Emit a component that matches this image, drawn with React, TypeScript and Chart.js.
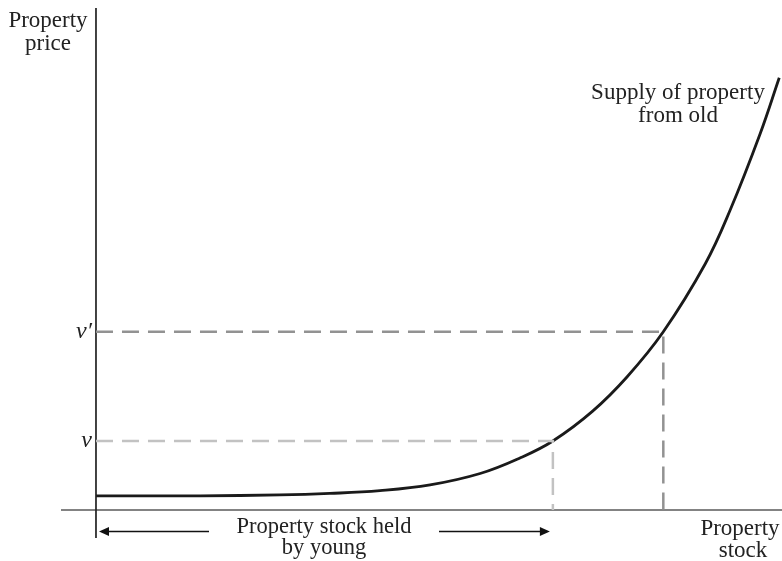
import React, { useEffect, useRef } from "react";
import { Chart, registerables } from "chart.js";

Chart.register(...registerables);

// Supply of property from old: stock (x) vs price (y), in chart units
const stock = [0, 15.2, 26.8, 34.1, 41.4, 48.7, 56.0, 61.8, 66.6, 72.4, 77.4, 82.7, 88.8, 92.4, 96.8, 99.6];
const price = [2.8, 2.83, 3.0, 3.3, 3.85, 5.0, 7.27, 10.36, 13.75, 19.7, 26.5, 35.5, 49.0, 59.6, 74.9, 86.1];

// Price levels and the stock they correspond to
const vLabels = ["v", "v\u2032"];
const vPrice = [13.75, 35.5];
const vStock = [66.6, 82.7];

const X_MIN = -5.1;
const X_MAX = 100;
const Y_MIN = -5.58;
const Y_MAX = 100;

const SERIF = '"Liberation Serif", "DejaVu Serif", serif';

const annotations = {
  id: "annotations",
  afterDraw(chart: any) {
    const { ctx } = chart;
    const xs = chart.scales.x;
    const ys = chart.scales.y;
    ctx.save();
    ctx.fillStyle = "#222";
    ctx.textBaseline = "alphabetic";

    // axis titles
    ctx.font = `23px ${SERIF}`;
    ctx.textAlign = "center";
    ctx.fillText("Property", 48, 27);
    ctx.fillText("price", 48, 50);

    ctx.fillText("Supply of property", 678, 99);
    ctx.fillText("from old", 678, 122);

    ctx.fillText("Property", 740, 535);
    ctx.fillText("stock", 743, 557);

    ctx.font = `22.5px ${SERIF}`;
    ctx.fillText("Property stock held", 324, 533);
    ctx.fillText("by young", 324, 554);

    // price level labels
    ctx.font = `italic 24px ${SERIF}`;
    ctx.textAlign = "right";
    for (let i = 0; i < vLabels.length; i++) {
      const py = ys.getPixelForValue(vPrice[i]);
      ctx.fillText(vLabels[i], 92, py + 6);
    }

    // arrows
    const ay = 531.5;
    const x0 = xs.getPixelForValue(0) + 3;
    const x1 = xs.getPixelForValue(vStock[0]) - 3;
    ctx.strokeStyle = "#111";
    ctx.lineWidth = 1.6;
    ctx.beginPath();
    ctx.moveTo(x0 + 8, ay);
    ctx.lineTo(209, ay);
    ctx.moveTo(439, ay);
    ctx.lineTo(x1 - 8, ay);
    ctx.stroke();
    ctx.fillStyle = "#111";
    ctx.beginPath();
    ctx.moveTo(x0, ay);
    ctx.lineTo(x0 + 10, ay - 4.5);
    ctx.lineTo(x0 + 10, ay + 4.5);
    ctx.closePath();
    ctx.fill();
    ctx.beginPath();
    ctx.moveTo(x1, ay);
    ctx.lineTo(x1 - 10, ay - 4.5);
    ctx.lineTo(x1 - 10, ay + 4.5);
    ctx.closePath();
    ctx.fill();
    ctx.restore();
  },
};

export default function App() {
  const ref = useRef<HTMLCanvasElement | null>(null);
  useEffect(() => {
    if (!ref.current) return;
    const curve = stock.map((s, i) => ({ x: s, y: price[i] }));
    const dashColors = ["#c2c2c2", "#929292"];
    const dashSets = vPrice.map((p, i) => ({
      data: [
        { x: 0, y: p },
        { x: vStock[i], y: p },
        { x: vStock[i], y: 0 },
      ],
      borderColor: dashColors[i],
      borderWidth: 2.5,
      borderDash: [17, 9],
      pointRadius: 0,
      tension: 0,
      fill: false,
      clip: false as any,
    }));
    const chart = new Chart(ref.current, {
      type: "line",
      data: {
        datasets: [
          ...dashSets,
          {
            data: [
              { x: 0, y: Y_MIN },
              { x: 0, y: Y_MAX },
            ],
            borderColor: "#222",
            borderWidth: 1.7,
            pointRadius: 0,
            clip: false as any,
          },
          {
            data: [
              { x: X_MIN, y: 0 },
              { x: X_MAX, y: 0 },
            ],
            borderColor: "#5a5a5a",
            borderWidth: 1.5,
            pointRadius: 0,
            clip: false as any,
          },
          {
            data: curve,
            borderColor: "#1a1a1a",
            borderWidth: 2.8,
            pointRadius: 0,
            tension: 0.4,
            clip: false as any,
          },
        ],
      },
      options: {
        responsive: false,
        animation: false,
        layout: { padding: { left: 61, right: 0, top: 8, bottom: 23 } },
        plugins: {
          legend: { display: false },
          title: { display: false },
          tooltip: { enabled: false },
        },
        scales: {
          x: { type: "linear", min: X_MIN, max: X_MAX, display: false },
          y: { type: "linear", min: Y_MIN, max: Y_MAX, display: false },
        },
      },
      plugins: [annotations],
    });
    return () => chart.destroy();
  }, []);
  return (
    <div style={{ position: "fixed", left: 0, top: 0, width: 782, height: 561, background: "#fff" }}>
      <canvas ref={ref} width={782} height={561} />
    </div>
  );
}
